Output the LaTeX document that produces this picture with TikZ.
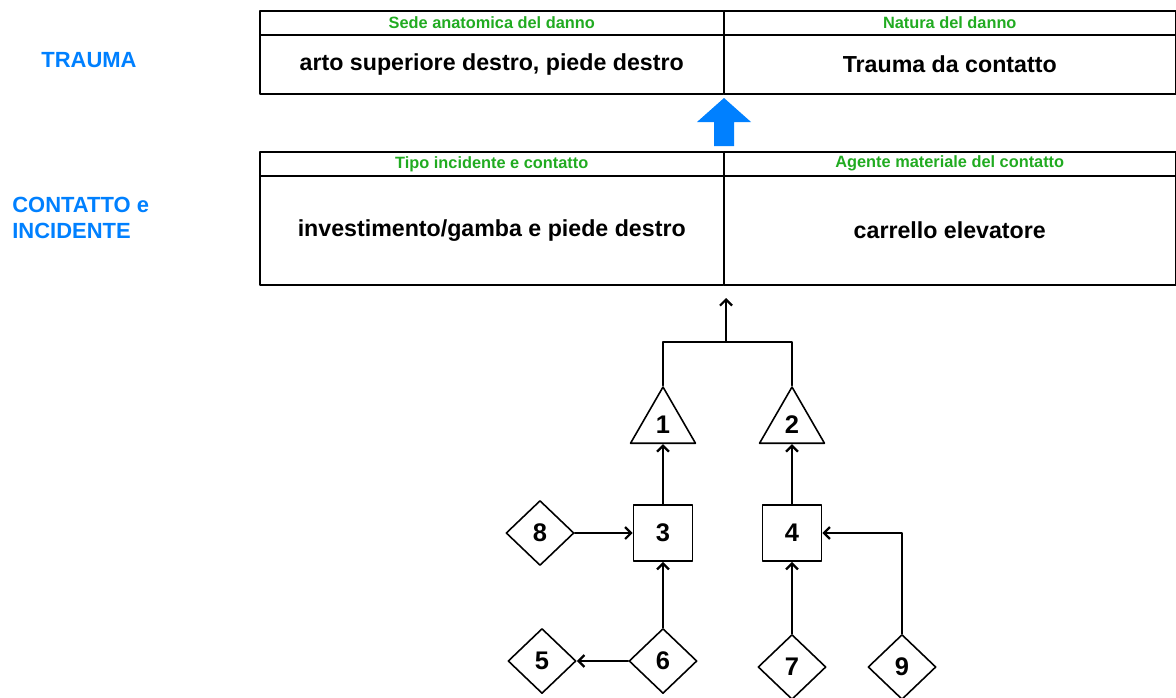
\documentclass[tikz,border=0pt]{standalone}
\usepackage{fontspec}
\setmainfont{Liberation Sans}
\usetikzlibrary{shapes.geometric,arrows.meta}
\definecolor{titleblue}{rgb}{0,0.5,1}
\definecolor{headgreen}{rgb}{0.13,0.67,0.13}

\begin{document}
\begin{tikzpicture}[line cap=round,line join=round,x=0.02cm,y=-0.02cm,
	cell/.style={draw,line width=0.9pt,inner sep=0pt,anchor=north west,font=\bfseries\fontsize{13.2}{15}\selectfont},
	hdr/.style={cell,text=headgreen,font=\bfseries\fontsize{9.3}{10}\selectfont,minimum height=0.48cm},
	lbl/.style={text=titleblue,font=\bfseries\fontsize{12.5}{14.5}\selectfont,align=left,inner sep=0pt},
	tri/.style={draw,line width=0.9pt,regular polygon,regular polygon sides=3,minimum size=1.5cm,inner sep=0pt,font=\bfseries\fontsize{14.5}{16}\selectfont},
	box/.style={draw,line width=0.9pt,minimum width=1.18cm,minimum height=1.12cm,inner sep=0pt,font=\bfseries\fontsize{14.5}{16}\selectfont},
	dia/.style={draw,line width=0.9pt,diamond,minimum width=1.36cm,minimum height=1.3cm,inner sep=0pt,font=\bfseries\fontsize{14.5}{16}\selectfont},
	link/.style={line width=0.9pt,-{Straight Barb[length=1.2mm,width=2.4mm,line width=1.3pt]}}]
	\useasboundingbox (0,0) rectangle (1176,697);

	% livello trauma
	\node[lbl] (trauma) at (89,60) {TRAUMA};
	\node[hdr,minimum width=9.28cm] (sedeH) at (259,10) {Sede anatomica del danno};
	\node[cell,minimum width=9.28cm,minimum height=1.18cm] (sede) at (259,34) {arto superiore destro, piede destro};
	\node[hdr,minimum width=9.04cm] (naturaH) at (723,10) {Natura del danno};
	\node[cell,minimum width=9.04cm,minimum height=1.18cm] (natura) at (723,34) {Trauma da contatto};

	\fill[titleblue] (724,98) -- (751,122) -- (734,122) -- (734,146) -- (714,146) -- (714,122) -- (697,122) -- cycle;

	% livello contatto e incidente
	\node[lbl,anchor=west] (contatto) at (12,218) {CONTATTO e\\INCIDENTE};
	\node[hdr,minimum width=9.28cm] (tipoH) at (259,151) {Tipo incidente e contatto};
	\node[cell,minimum width=9.28cm,minimum height=2.18cm] (tipo) at (259,175) {investimento/gamba e piede destro};
	\node[hdr,minimum width=9.04cm] (agenteH) at (723,151) {Agente materiale del contatto};
	\node[cell,minimum width=9.04cm,minimum height=2.18cm] (agente) at (723,175) {carrello elevatore};

	% albero
	\node[tri] (t1) at (663,424.5) {1};
	\node[tri] (t2) at (792,424.5) {2};
	\node[box] (b3) at (663,533) {3};
	\node[box] (b4) at (792,533) {4};
	\node[dia] (d8) at (540,533) {8};
	\node[dia] (d5) at (542,661) {5};
	\node[dia] (d6) at (663,661) {6};
	\node[dia] (d7) at (792,667) {7};
	\node[dia] (d9) at (902,667) {9};
	\coordinate (join) at (726,342);
	\coordinate (tip) at (726,298);

	\draw[line width=0.9pt] (t1.north) |- (join) -| (t2.north);
	\draw[link] (join) -- (tip);
	\draw[link] (b3.north) -- (t1.south);
	\draw[link] (b4.north) -- (t2.south);
	\draw[link] (d8.east) -- (b3.west);
	\draw[link] (d6.north) -- (b3.south);
	\draw[link] (d6.west) -- (d5.east);
	\draw[link] (d7.north) -- (b4.south);
	\draw[link] (d9.north) |- (b4.east);
\end{tikzpicture}
\end{document}
